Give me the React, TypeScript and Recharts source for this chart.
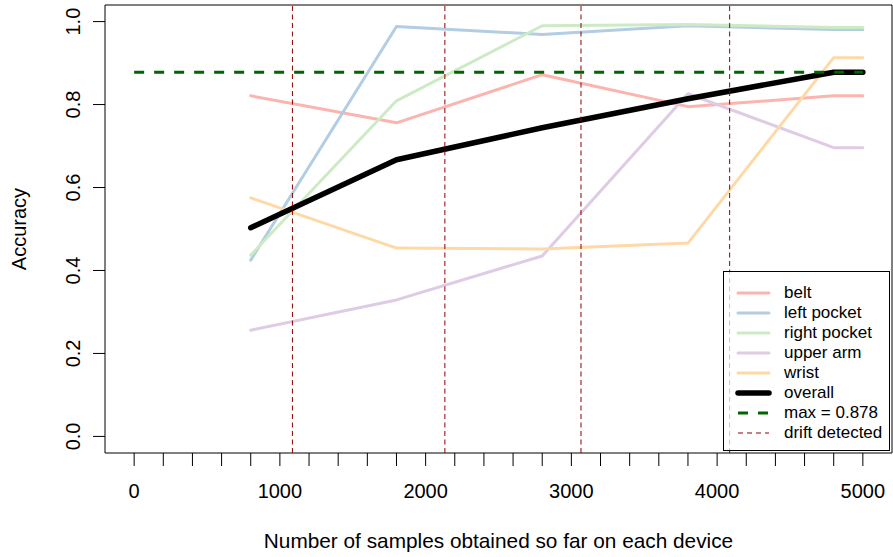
import React from "react";
import {
  LineChart,
  Line,
  XAxis,
  YAxis,
  ReferenceLine,
  ReferenceArea,
  Label,
} from "recharts";

const samples = [800, 1800, 2800, 3800, 4800, 5000];
const belt = [0.821, 0.756, 0.872, 0.795, 0.821, 0.821];
const leftPocket = [0.425, 0.988, 0.969, 0.99, 0.981, 0.981];
const rightPocket = [0.437, 0.809, 0.99, 0.993, 0.986, 0.986];
const upperArm = [0.256, 0.329, 0.435, 0.826, 0.696, 0.696];
const wrist = [0.575, 0.454, 0.452, 0.466, 0.913, 0.913];
const overall = [0.503, 0.667, 0.744, 0.814, 0.878, 0.878];

const maxAccuracy = 0.878;
const driftPoints = [1086, 2132, 3066, 4086];

const xTicks = [
  0, 200, 400, 600, 800, 1000, 1200, 1400, 1600, 1800, 2000, 2200, 2400,
  2600, 2800, 3000, 3200, 3400, 3600, 3800, 4000, 4200, 4400, 4600, 4800,
  5000,
];
const xTickLabels = [0, 1000, 2000, 3000, 4000, 5000];
const yTicks = [0, 0.2, 0.4, 0.6, 0.8, 1.0];

const FONT = "'Liberation Sans', Arial, Helvetica, sans-serif";

const series = [
  { key: "belt", name: "belt", color: "#FBB4AE", values: belt, width: 3 },
  { key: "left", name: "left pocket", color: "#B3CDE3", values: leftPocket, width: 3 },
  { key: "right", name: "right pocket", color: "#CCEBC5", values: rightPocket, width: 3 },
  { key: "upper", name: "upper arm", color: "#DECBE4", values: upperArm, width: 3 },
  { key: "wrist", name: "wrist", color: "#FED9A6", values: wrist, width: 3 },
  { key: "overall", name: "overall", color: "#000000", values: overall, width: 5.5 },
];

const data = samples.map((x, i) => {
  const row: any = { x };
  series.forEach((s) => (row[s.key] = s.values[i]));
  return row;
});

const XTick = (props: any) => {
  const { x, y, payload } = props;
  const showLabel = xTickLabels.includes(payload.value);
  return (
    <g>
      <line x1={x} x2={x} y1={y} y2={y + 13} stroke="#000" strokeWidth={1} />
      {showLabel && (
        <text x={x} y={y + 45} textAnchor="middle" fontSize={20} fontFamily={FONT} fill="#000">
          {payload.value}
        </text>
      )}
    </g>
  );
};

const YTick = (props: any) => {
  const { x, y, payload } = props;
  return (
    <g>
      <line x1={x - 12} x2={x} y1={y} y2={y} stroke="#000" strokeWidth={1} />
      <text
        x={x - 25}
        y={y}
        transform={`rotate(-90, ${x - 25}, ${y})`}
        textAnchor="middle"
        fontSize={20}
        fontFamily={FONT}
        fill="#000"
      >
        {payload.value.toFixed(1)}
      </text>
    </g>
  );
};

const legendItems = [
  ...series.map((s) => ({ name: s.name, color: s.color, width: s.width, dash: undefined as string | undefined })),
  { name: `max = ${maxAccuracy}`, color: "#006400", width: 3, dash: "10 10" },
  { name: "drift detected", color: "#8B0000", width: 1.2, dash: "5 4" },
];

const App: React.FC = () => {
  return (
    <div style={{ position: "absolute", left: 0, top: 0, width: 893, height: 557, background: "#fff" }}>
      <LineChart
        width={893}
        height={557}
        data={data}
        margin={{ top: 5, right: 1, left: 45, bottom: 44 }}
      >
        <XAxis
          dataKey="x"
          type="number"
          domain={[-200, 5200]}
          ticks={xTicks}
          interval={0}
          allowDataOverflow
          axisLine={false}
          tickLine={false}
          tickSize={0}
          tickMargin={0}
          height={60}
          tick={<XTick />}
        >
          <Label
            content={() => (
              <text x={498.5} y={548} textAnchor="middle" fontSize={20.8} fontFamily={FONT} fill="#000">
                Number of samples obtained so far on each device
              </text>
            )}
          />
        </XAxis>
        <YAxis
          type="number"
          domain={[-0.04, 1.04]}
          ticks={yTicks}
          interval={0}
          allowDataOverflow
          axisLine={false}
          tickLine={false}
          tickSize={0}
          tickMargin={0}
          width={60}
          tick={<YTick />}
        >
          <Label
            content={() => (
              <text
                x={26}
                y={229}
                transform="rotate(-90, 26, 229)"
                textAnchor="middle"
                fontSize={20}
                fontFamily={FONT}
                fill="#000"
              >
                Accuracy
              </text>
            )}
          />
        </YAxis>
        <ReferenceArea
          x1={-200}
          x2={5200}
          y1={-0.04}
          y2={1.04}
          fill="none"
          stroke="#000"
          strokeWidth={1}
          ifOverflow="visible"
        />
        {series.map((s) => (
          <Line
            key={s.key}
            dataKey={s.key}
            type="linear"
            stroke={s.color}
            strokeWidth={s.width}
            dot={false}
            activeDot={false}
            strokeLinejoin="round"
            strokeLinecap="round"
            isAnimationActive={false}
          />
        ))}
        <ReferenceLine
          segment={[
            { x: 0, y: maxAccuracy },
            { x: 5000, y: maxAccuracy },
          ]}
          stroke="#006400"
          strokeWidth={3}
          strokeDasharray="10 10"
        />
        {driftPoints.map((d) => (
          <ReferenceLine key={d} x={d} stroke="#8B0000" strokeWidth={1} strokeDasharray="5 3.5" />
        ))}
      </LineChart>
      <div
        style={{
          position: "absolute",
          left: 723,
          top: 271,
          width: 167,
          height: 180,
          border: "1px solid #000",
          background: "rgba(255,255,255,0.72)",
          fontFamily: FONT,
          fontSize: 17,
          boxSizing: "border-box",
          paddingTop: 11,
        }}
      >
        {legendItems.map((it) => (
          <div key={it.name} style={{ display: "flex", alignItems: "center", height: 20.05 }}>
            <svg width={60} height={20} style={{ flex: "none" }}>
              <line
                x1={14}
                x2={45}
                y1={10}
                y2={10}
                stroke={it.color}
                strokeWidth={it.width}
                strokeDasharray={it.dash}
                strokeLinecap={it.dash ? "butt" : "round"}
              />
            </svg>
            <span style={{ lineHeight: "20px", whiteSpace: "nowrap" }}>{it.name}</span>
          </div>
        ))}
      </div>
    </div>
  );
};

export default App;
